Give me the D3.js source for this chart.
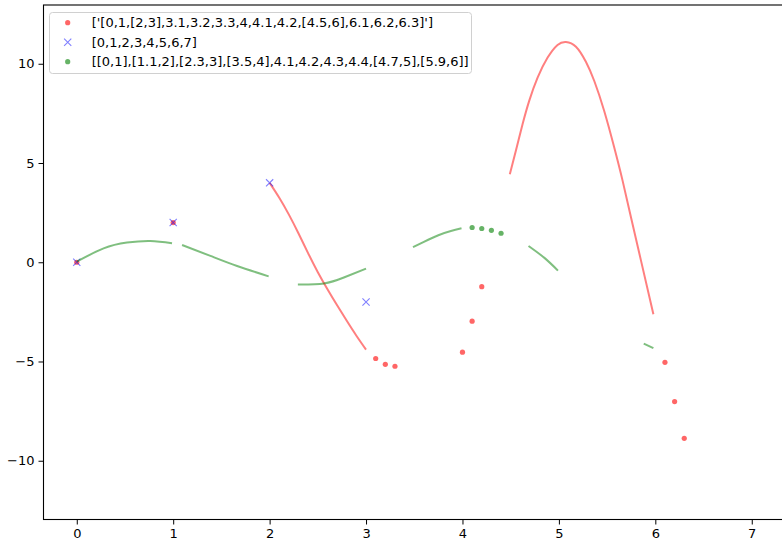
<!DOCTYPE html>
<html>
<head>
<meta charset="utf-8">
<script src="https://cdn.jsdelivr.net/npm/d3@7"></script>
<style>
  html, body { margin: 0; padding: 0; background: #fff; }
  svg { display: block; font-family: "DejaVu Sans", sans-serif; }
</style>
</head>
<body>
<svg id="chart" width="782" height="540"></svg>
<script>
// ---- data ----
// red series: continuous stretches drawn as lines, single markers elsewhere
const redSegA = [[2.0, 4.0], [2.1, 3.25], [2.2, 2.40], [2.3, 1.45], [2.4, 0.45], [2.5, -0.50],
                 [2.6, -1.36], [2.7, -2.17], [2.8, -2.95], [2.9, -3.70], [3.0, -4.40]];
const redSegB = [[4.491, 4.43], [4.553, 5.61], [4.623, 6.95], [4.692, 8.13], [4.779, 9.30],
                 [4.883, 10.31], [4.986, 10.95], [5.073, 11.10], [5.177, 10.86], [5.28, 10.10],
                 [5.367, 9.13], [5.47, 7.62], [5.574, 5.78], [5.661, 4.10], [5.748, 2.25],
                 [5.852, 0.07], [5.98, -2.62]];
const redDotsX = [0, 1, 3.1, 3.2, 3.3, 4.0, 4.1, 4.2, 6.1, 6.2, 6.3];
const redDotsY = [0, 2, -4.85, -5.14, -5.24, -4.53, -2.97, -1.23, -5.04, -7.02, -8.87];

// blue series: markers only
const blueX = [0, 1, 2, 3];
const blueY = [0, 2, 4, -2];

// green series: line pieces plus a run of markers
const greenSeg1 = [[0, 0.03], [0.278, 0.70], [0.521, 0.99], [0.763, 1.07], [0.988, 0.96]];
const greenSeg2 = [[1.092, 0.87], [1.386, 0.32], [1.663, -0.19], [1.99, -0.71]];
const greenSeg3 = [[2.293, -1.12], [2.564, -1.07], [2.77, -0.77], [3.0, -0.32]];
const greenSeg4 = [[3.487, 0.76], [3.6, 1.03], [3.75, 1.36], [3.88, 1.57], [3.99, 1.71]];
const greenSeg5 = [[4.685, 0.82], [4.85, 0.22], [4.99, -0.42]];
const greenSeg6 = [[5.88, -4.10], [5.98, -4.33]];
const greenDotsX = [4.1, 4.2, 4.3, 4.4];
const greenDotsY = [1.75, 1.70, 1.61, 1.46];

const legendLabels = [
  "['[0,1,[2,3],3.1,3.2,3.3,4,4.1,4.2,[4.5,6],6.1,6.2,6.3]']",
  "[0,1,2,3,4,5,6,7]",
  "[[0,1],[1.1,2],[2.3,3],[3.5,4],4.1,4.2,4.3,4.4,[4.7,5],[5.9,6]]"
];
const xTicks = [0, 1, 2, 3, 4, 5, 6, 7];
const yTicks = [-10, -5, 0, 5, 10];

// ---- layout ----
const svg = d3.select("#chart");
const plot = { left: 43.5, top: 5, right: 785.5, bottom: 519.5 };

const x = d3.scaleLinear().domain([-0.345, 7.35]).range([plot.left, plot.right]);
const y = d3.scaleLinear().domain([-12.96, 12.96]).range([plot.bottom, plot.top]);

const RED = "#ff0000", BLUE = "#0000ff", GREEN = "#008000";

const line = d3.line().x(d => x(d[0])).y(d => y(d[1])).curve(d3.curveNatural);

const g = svg.append("g");

// red
[redSegA, redSegB].forEach(seg => {
  g.append("path").attr("d", line(seg))
    .attr("fill", "none").attr("stroke", RED).attr("stroke-opacity", 0.5)
    .attr("stroke-width", 2).attr("stroke-linecap", "butt");
});
g.selectAll("circle.red").data(redDotsX.map((v, i) => [v, redDotsY[i]])).join("circle")
  .attr("class", "red")
  .attr("cx", d => x(d[0])).attr("cy", d => y(d[1])).attr("r", 2.6)
  .attr("fill", RED).attr("fill-opacity", 0.6);

// blue
const xMark = 3.6;
const blueG = g.selectAll("g.blue").data(blueX.map((v, i) => [v, blueY[i]])).join("g")
  .attr("class", "blue")
  .attr("transform", d => `translate(${x(d[0])},${y(d[1])})`);
blueG.append("path")
  .attr("d", `M${-xMark},${-xMark}L${xMark},${xMark}M${-xMark},${xMark}L${xMark},${-xMark}`)
  .attr("stroke", BLUE).attr("stroke-opacity", 0.5).attr("stroke-width", 1.1).attr("fill", "none");

// green
[greenSeg1, greenSeg2, greenSeg3, greenSeg4, greenSeg5, greenSeg6].forEach(seg => {
  g.append("path").attr("d", line(seg))
    .attr("fill", "none").attr("stroke", GREEN).attr("stroke-opacity", 0.5)
    .attr("stroke-width", 2).attr("stroke-linecap", "butt");
});
g.selectAll("circle.green").data(greenDotsX.map((v, i) => [v, greenDotsY[i]])).join("circle")
  .attr("class", "green")
  .attr("cx", d => x(d[0])).attr("cy", d => y(d[1])).attr("r", 2.6)
  .attr("fill", GREEN).attr("fill-opacity", 0.6);

// ---- axes ----
const xAxis = d3.axisBottom(x).tickValues(xTicks).tickSize(5).tickPadding(4).tickFormat(d3.format("d"));
const yAxis = d3.axisLeft(y).tickValues(yTicks).tickSize(5).tickPadding(4)
  .tickFormat(d => d < 0 ? "\u2212" + Math.abs(d) : String(d));

const gx = svg.append("g").attr("transform", `translate(0,${plot.bottom})`).call(xAxis);
const gy = svg.append("g").attr("transform", `translate(${plot.left},0)`).call(yAxis);
[gx, gy].forEach(a => {
  a.select(".domain").remove();
  a.selectAll(".tick line").attr("stroke", "#000").attr("stroke-width", 1);
  a.selectAll(".tick text").attr("fill", "#000").attr("font-size", 13)
    .attr("font-family", "DejaVu Sans, sans-serif");
});

// spines
svg.append("rect")
  .attr("x", plot.left).attr("y", plot.top)
  .attr("width", plot.right - plot.left).attr("height", plot.bottom - plot.top)
  .attr("fill", "none").attr("stroke", "#000").attr("stroke-width", 1.1);

// ---- legend ----
const lg = svg.append("g");
lg.append("rect")
  .attr("x", 49.5).attr("y", 12.5).attr("width", 422).attr("height", 61).attr("rx", 3)
  .attr("fill", "#fff").attr("fill-opacity", 0.8).attr("stroke", "#d0d0d0").attr("stroke-width", 1);
const rowY = [22.7, 42.3, 61.7];
const markX = 67.7;
lg.append("circle").attr("cx", markX).attr("cy", rowY[0]).attr("r", 2.6)
  .attr("fill", RED).attr("fill-opacity", 0.6);
lg.append("path")
  .attr("d", `M${markX - xMark},${rowY[1] - xMark}L${markX + xMark},${rowY[1] + xMark}M${markX - xMark},${rowY[1] + xMark}L${markX + xMark},${rowY[1] - xMark}`)
  .attr("stroke", BLUE).attr("stroke-opacity", 0.5).attr("stroke-width", 1.1);
lg.append("circle").attr("cx", markX).attr("cy", rowY[2]).attr("r", 2.6)
  .attr("fill", GREEN).attr("fill-opacity", 0.6);
lg.selectAll("text").data(legendLabels).join("text")
  .attr("x", 91.7).attr("y", (d, i) => rowY[i]).attr("dy", "0.35em")
  .attr("font-size", 13).attr("fill", "#000").text(d => d);
</script>
</body>
</html>
